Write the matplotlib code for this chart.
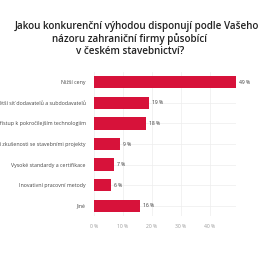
import matplotlib
matplotlib.use("Agg")
import matplotlib.pyplot as plt

# data
categories = [
    "Nižší ceny",
    "Větší síť dodavatelů a subdodavatelů",
    "Lepší přístup k pokročilejším technologiím",
    "Větší zkušenosti se stavebními projekty",
    "Vysoké standardy a certifikace",
    "Inovativní pracovní metody",
    "Jiné",
]
values = [49, 19, 18, 9, 7, 6, 16]
x_ticks = [0, 10, 20, 30, 40]
x_tick_labels = ["0 %", "10 %", "20 %", "30 %", "40 %"]

plt.rcParams['font.family'] = ['Open Sans', 'DejaVu Sans']

fig = plt.figure(figsize=(2.6, 2.6), dpi=100)
ax = fig.add_axes([94 / 260, 1 - 216 / 260, 142 / 260, 144 / 260])

pos = list(range(len(categories)))
ax.barh(pos, values, height=0.6, color="#D7123A", zorder=3)

for p, v in zip(pos, values):
    ax.text(v + 1.0, p, f"{v} %", va="center", ha="left", fontsize=3.6,
            color="#333333")

ax.set_yticks(pos)
ax.set_yticklabels(categories, fontsize=3.8, color="#444444")
ax.set_xticks(x_ticks)
ax.set_xticklabels(x_tick_labels, fontsize=3.6, color="#999999")
ax.set_xlim(0, 49)
ax.set_ylim(6.5, -0.5)
ax.tick_params(axis="both", length=0, pad=6)
ax.grid(True, color="#ededed", linewidth=0.5, zorder=0)
for s in ax.spines.values():
    s.set_visible(False)

# title, three centered lines
title_lines = [
    "Jakou konkurenční výhodou disponují podle Vašeho",
    "názoru zahraniční firmy působící",
    "v českém stavebnictví?",
]
for i, line in enumerate(title_lines):
    fig.text(0.5 if i else 0.528, 1 - (26 + 13 * i) / 260, line, ha="center",
             va="center", fontsize=7.1, fontweight="semibold", color="#222222")

fig.savefig("out.png", dpi=100)
